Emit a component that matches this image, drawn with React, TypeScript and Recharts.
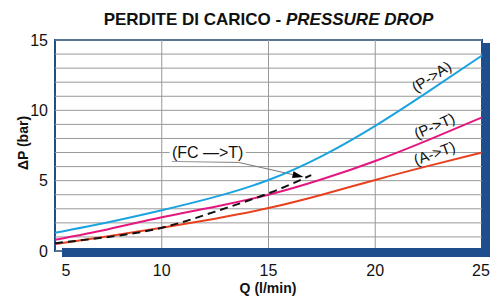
import { LineChart, Line, XAxis, YAxis, ReferenceLine, ReferenceArea, ReferenceDot } from "recharts";

const qTicks = [5, 10, 15, 20, 25];
const pTicks = [0, 5, 10, 15];
const gridP = [0, 1, 2, 3, 4, 5, 6, 7, 8, 9, 10, 11, 12, 13, 14, 15];
const gridQ = [10, 15, 20];

// P -> A (cyan)
const pToA = [
  { q: 5, p: 1.3 },
  { q: 7.5, p: 2.05 },
  { q: 10, p: 2.9 },
  { q: 12.5, p: 3.85 },
  { q: 15, p: 5.05 },
  { q: 17.5, p: 6.75 },
  { q: 20, p: 8.9 },
  { q: 22.5, p: 11.35 },
  { q: 25, p: 13.9 },
];
// P -> T (magenta)
const pToT = [
  { q: 5, p: 0.8 },
  { q: 7.5, p: 1.55 },
  { q: 10, p: 2.4 },
  { q: 12.5, p: 3.15 },
  { q: 15, p: 4.0 },
  { q: 17.5, p: 5.1 },
  { q: 20, p: 6.4 },
  { q: 22.5, p: 7.9 },
  { q: 25, p: 9.5 },
];
// A -> T (red)
const aToT = [
  { q: 5, p: 0.5 },
  { q: 7.5, p: 1.05 },
  { q: 10, p: 1.65 },
  { q: 12.5, p: 2.3 },
  { q: 15, p: 3.05 },
  { q: 17.5, p: 4.0 },
  { q: 20, p: 5.05 },
  { q: 22.5, p: 6.05 },
  { q: 25, p: 7.0 },
];
// FC -> T (dashed)
const fcToT = [
  { q: 5, p: 0.55 },
  { q: 7.5, p: 1.0 },
  { q: 10, p: 1.65 },
  { q: 12.5, p: 2.8 },
  { q: 15, p: 4.1 },
  { q: 17, p: 5.4 },
];

// leader line for the (FC —>T) note
const leaderA = [{ x: 10.47, y: 6.37 }, { x: 13.59, y: 6.3 }];
const leaderB = [{ x: 13.59, y: 6.3 }, { x: 16.64, y: 5.26 }];

const BLUE = "#1f4e8c";
const FONT = '"Liberation Sans", Arial, Helvetica, sans-serif';

const QTick = (props: any) => {
  const { x, y, payload } = props;
  const dx = payload.value === 5 ? 11 : payload.value === 25 ? -1 : 0;
  return (
    <text x={x + dx} y={y} dy="0.71em" textAnchor="middle" fontSize={16} fill="#111" fontFamily={FONT}>
      {payload.value}
    </text>
  );
};

const rotLabel = (text: string, angle: number) => (props: any) => {
  const { cx, cy } = props;
  return (
    <text
      x={cx}
      y={cy}
      dy="0.35em"
      textAnchor="middle"
      fontSize={15}
      fill="#111"
      fontFamily={FONT}
      transform={`rotate(${angle} ${cx} ${cy})`}
    >
      {text}
    </text>
  );
};

const fcLabel = (props: any) => {
  const { cx, cy } = props;
  return (
    <g>
      <rect x={cx - 38} y={cy - 9} width={76} height={18} fill="#fff" />
      <text x={cx} y={cy} dy="0.35em" textAnchor="middle" fontSize={16} fill="#111" fontFamily={FONT}>
        (FC —&gt;T)
      </text>
    </g>
  );
};

const arrowShape = (props: any) => {
  const { x1, y1, x2, y2 } = props;
  const a = Math.atan2(y2 - y1, x2 - x1);
  const len = 11;
  const w = 3.5;
  const bx = x2 - len * Math.cos(a);
  const by = y2 - len * Math.sin(a);
  const px = -Math.sin(a) * w;
  const py = Math.cos(a) * w;
  return (
    <g>
      <line x1={x1} y1={y1} x2={bx} y2={by} stroke="#777" strokeWidth={1} />
      <polygon points={`${x2},${y2} ${bx + px},${by + py} ${bx - px},${by - py}`} fill="#000" />
    </g>
  );
};

export default function App() {
  return (
    <div style={{ position: "absolute", left: 0, top: 0, width: 492, height: 298, fontFamily: FONT, background: "#fff" }}>
      <div style={{ position: "absolute", left: 0, top: 10, width: 537, textAlign: "center", fontSize: 17, fontWeight: 700, color: "#111" }}>
        PERDITE DI CARICO - <i>PRESSURE DROP</i>
      </div>
      <div
        style={{
          position: "absolute",
          left: 23,
          top: 143,
          transform: "translate(-50%, -50%) rotate(-90deg)",
          fontSize: 14,
          fontWeight: 700,
          whiteSpace: "nowrap",
          color: "#111",
        }}
      >
        ΔP (bar)
      </div>
      <div style={{ position: "absolute", left: 268, top: 280, transform: "translateX(-50%)", fontSize: 14, fontWeight: 700, whiteSpace: "nowrap", color: "#111" }}>
        Q (l/min)
      </div>
      <LineChart width={492} height={298} margin={{ top: 40, right: 10, left: 0, bottom: 0 }} style={{ position: "absolute", left: 0, top: 0 }}>
        <XAxis
          type="number"
          dataKey="q"
          domain={[5, 25]}
          ticks={qTicks}
          interval={0}
          axisLine={false}
          tickLine={false}
          tickSize={0}
          tickMargin={14}
          height={47}
          tick={<QTick />}
        />
        <YAxis
          type="number"
          dataKey="p"
          domain={[0, 15]}
          ticks={pTicks}
          interval={0}
          axisLine={false}
          tickLine={false}
          tickSize={0}
          tickMargin={7}
          width={55}
          tick={{ fontSize: 16, fill: "#111", fontFamily: FONT }}
        />
        {gridP.map((v) => (
          <ReferenceLine key={`h${v}`} y={v} stroke="#999" strokeWidth={1} />
        ))}
        {gridQ.map((v) => (
          <ReferenceLine key={`v${v}`} x={v} stroke="#999" strokeWidth={1} />
        ))}
        <ReferenceLine segment={leaderA} stroke="#777" strokeWidth={1} />
        <ReferenceLine segment={leaderB} shape={arrowShape} />
        <Line data={pToA} dataKey="p" type="natural" stroke="#1ba3e0" strokeWidth={2} dot={false} isAnimationActive={false} />
        <Line data={pToT} dataKey="p" type="natural" stroke="#e5177f" strokeWidth={2} dot={false} isAnimationActive={false} />
        <Line data={aToT} dataKey="p" type="natural" stroke="#e8401f" strokeWidth={2} dot={false} isAnimationActive={false} />
        <Line data={fcToT} dataKey="p" type="natural" stroke="#111" strokeWidth={2} strokeDasharray="8 5" dot={false} isAnimationActive={false} />
        <ReferenceDot x={12.15} y={7.02} r={0} shape={fcLabel} />
        <ReferenceDot x={22.63} y={12.4} r={0} shape={rotLabel("(P->A)", -33)} />
        <ReferenceDot x={22.77} y={8.9} r={0} shape={rotLabel("(P->T)", -24)} />
        <ReferenceDot x={22.77} y={6.95} r={0} shape={rotLabel("(A->T)", -20)} />
        <ReferenceArea x1={5} x2={25} y1={0} y2={15} fill="none" stroke={BLUE} strokeWidth={2} />
      </LineChart>
      {/* frame shadow */}
      <div style={{ position: "absolute", left: 483, top: 43, width: 7, height: 214, background: BLUE }} />
      <div style={{ position: "absolute", left: 62, top: 248, width: 428, height: 9, background: BLUE }} />
    </div>
  );
}
